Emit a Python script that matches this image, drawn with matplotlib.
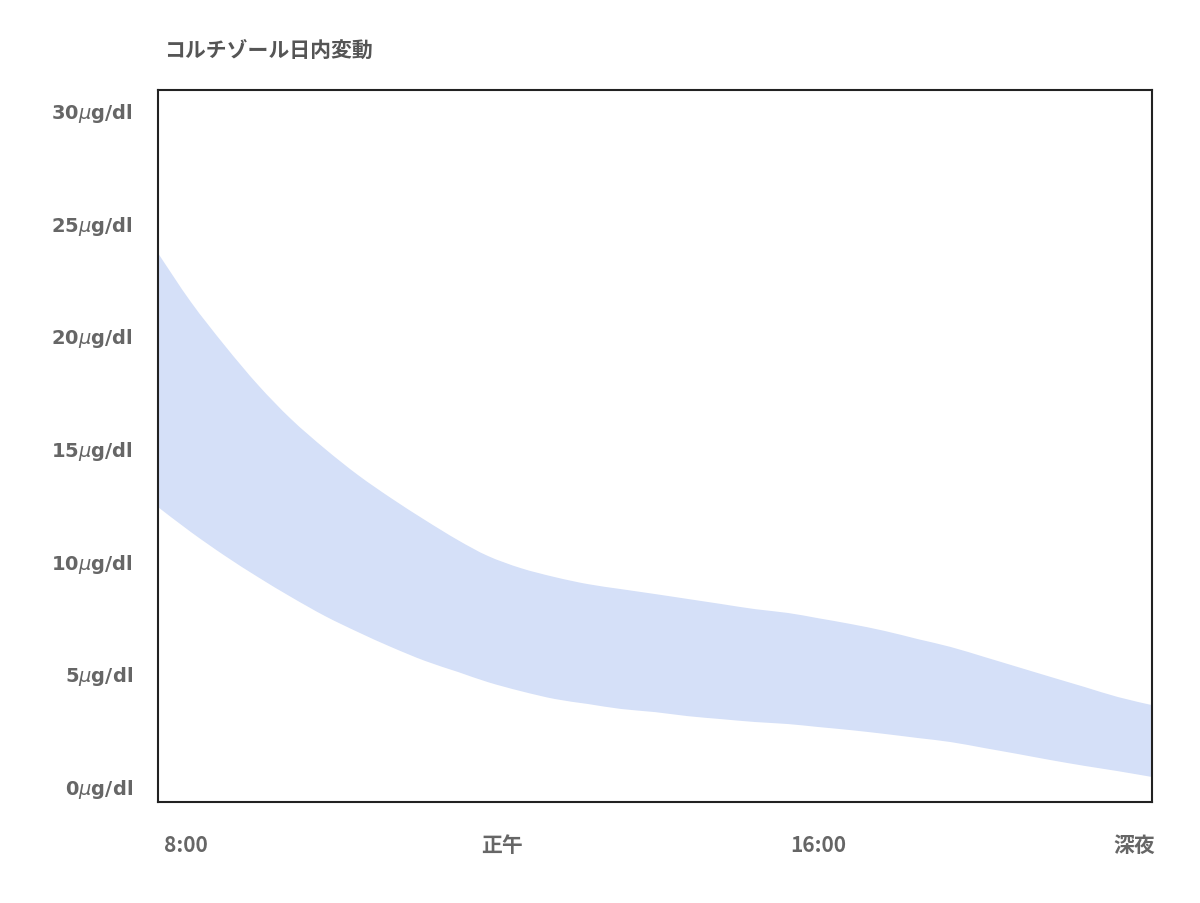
import numpy as np
import matplotlib
matplotlib.use('Agg')
import matplotlib.pyplot as plt
from matplotlib.path import Path
from matplotlib.patches import PathPatch

plt.rcParams['font.family'] = ['Noto Sans CJK JP', 'DejaVu Sans']
plt.rcParams['mathtext.fontset'] = 'dejavusans'

# time of day in hours (8:00 -> 24:00) and the band limits in ug/dl
hours = [8.0, 8.53, 9.08, 9.61, 10.14, 10.69, 11.22, 11.75, 12.30, 12.83, 13.31,
         13.84, 14.39, 14.92, 15.45, 16.0, 16.53, 17.06, 17.61, 18.14, 18.62,
         19.15, 19.70, 20.23, 20.76, 21.31, 21.84, 22.37, 22.92, 23.45, 24.0]
upper = [23.63, 21.46, 19.51, 17.78, 16.27, 14.94, 13.78, 12.76, 11.78, 10.89, 10.19,
         9.65, 9.25, 8.94, 8.72, 8.50, 8.28, 8.06, 7.83, 7.66, 7.43,
         7.17, 6.86, 6.50, 6.15, 5.70, 5.26, 4.82, 4.37, 3.93, 3.57]
lower = [12.36, 11.25, 10.19, 9.25, 8.37, 7.52, 6.81, 6.15, 5.53, 5.04, 4.59,
         4.19, 3.84, 3.62, 3.40, 3.26, 3.08, 2.95, 2.82, 2.73, 2.60,
         2.46, 2.29, 2.11, 1.93, 1.66, 1.40, 1.13, 0.87, 0.64, 0.38]

y_ticks = [0, 5, 10, 15, 20, 25, 30]
x_labels = ['8:00', '正午', '16:00', '深夜']

text_color = '#666666'


def smooth_curve(xs, ys):
    # catmull-rom through the points, written as cubic bezier segments
    p = np.column_stack([xs, ys]).astype(float)
    p = np.vstack([p[0], p, p[-1]])
    verts, codes = [], []
    for i in range(1, len(p) - 2):
        c1 = p[i] + (p[i + 1] - p[i - 1]) / 6
        c2 = p[i + 1] - (p[i + 2] - p[i]) / 6
        verts += [c1, c2, p[i + 1]]
        codes += [Path.CURVE4] * 3
    return verts, codes


fig = plt.figure(figsize=(12, 9.04), dpi=100)
ax = fig.add_axes([158 / 1200, 1 - 803 / 904, 994 / 1200, 712 / 904])

up_v, up_c = smooth_curve(hours, upper)
lo_v, lo_c = smooth_curve(hours[::-1], lower[::-1])
verts = [(hours[0], upper[0])] + up_v + [(hours[-1], lower[-1])] + lo_v + [(hours[0], upper[0])]
codes = [Path.MOVETO] + up_c + [Path.LINETO] + lo_c + [Path.CLOSEPOLY]
band = PathPatch(Path(verts, codes), facecolor='#d5e0f8', edgecolor='none')
ax.add_patch(band)

ax.set_xlim(8, 24)
ax.set_ylim(-0.73, 30.87)

ax.set_yticks(y_ticks)
ax.set_yticklabels([f'{v}$\\mu$g/dl' for v in y_ticks], family='DejaVu Sans',
                   fontweight='bold')
# labels are spread evenly under the plot
label_frac = np.linspace(0.028, 0.982, len(x_labels))
ax.set_xticks(8 + 16 * label_frac)
ax.set_xticklabels(x_labels, fontweight='bold')

ax.tick_params(axis='y', length=0, pad=18, labelsize=14, labelcolor=text_color)
ax.tick_params(axis='x', length=0, pad=23, labelsize=15, labelcolor=text_color)

for sp in ax.spines.values():
    sp.set_color('#222222')
    sp.set_linewidth(1.5)

fig.text(164 / 1200, 1 - 50 / 904, 'コルチゾール日内変動', fontsize=15,
         fontweight='bold', color='#555555', va='center', ha='left')

fig.savefig('out.png', dpi=100, facecolor='white')
